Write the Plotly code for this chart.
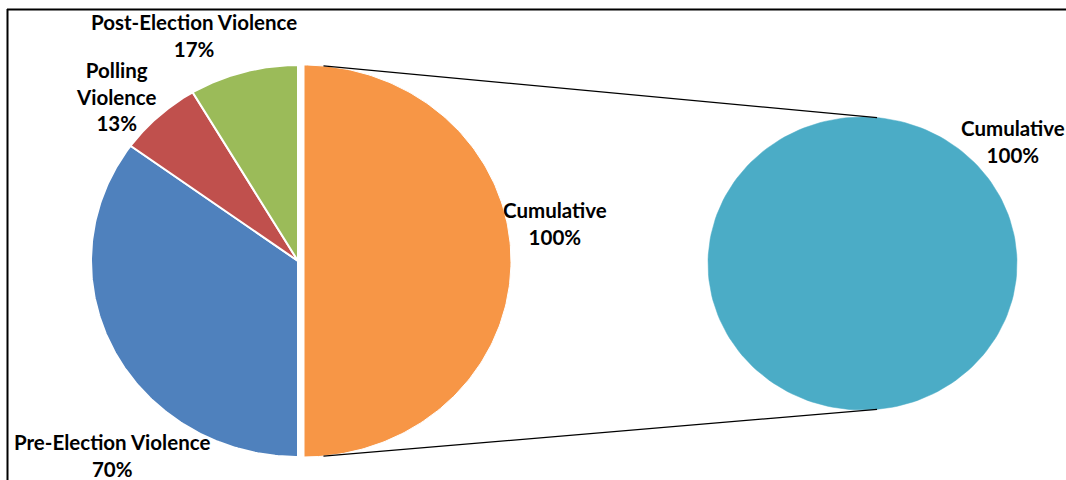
import numpy as np
import plotly.graph_objects as go

# ---- data ----
categories = ["Pre-Election Violence", "Polling Violence", "Post-Election Violence"]
values = [70, 13, 17]
other_label = "Cumulative"
other_value = 100
second_labels = ["Cumulative"]
second_values = [100]

colors = ["#4F81BD", "#C0504D", "#9BBB59"]
other_color = "#F79646"
second_colors = ["#4BACC6"]

# ---- layout geometry (pixel space) ----
W, H = 1066, 480
C1 = (298.0, 261.0)
R1 = (207.0, 196.0)
C2 = (862.5, 263.5)
R2 = (154.5, 146.5)
EXPLODE = 6.0
FONT = "Lato"
FSIZE = 20.5


def wedge(c, r, a0, a1, dx=0.0, n=180):
    th = np.radians(np.linspace(a0, a1, n))
    xs = c[0] + dx + r[0] * np.cos(th)
    ys = c[1] - r[1] * np.sin(th)
    if abs(a1 - a0) >= 359.999:
        return xs, ys
    xs = np.concatenate([[c[0] + dx], xs, [c[0] + dx]])
    ys = np.concatenate([[c[1]], ys, [c[1]]])
    return xs, ys


fig = go.Figure()

total = sum(values) + other_value
# primary pie: start at 12 o'clock, clockwise; "other" slice first
angle = 90.0
span = 360.0 * other_value / total
xs, ys = wedge(C1, R1, angle, angle - span, dx=EXPLODE)
fig.add_trace(go.Scatter(x=xs, y=ys, mode="lines", fill="toself",
                         fillcolor=other_color, line=dict(color="white", width=1),
                         name=other_label, hoverinfo="name"))
angle -= span
for cat, v, col in zip(categories, values, colors):
    span = 360.0 * v / total
    xs, ys = wedge(C1, R1, angle, angle - span)
    fig.add_trace(go.Scatter(x=xs, y=ys, mode="lines", fill="toself",
                             fillcolor=col, line=dict(color="white", width=2),
                             name=cat, hoverinfo="name"))
    angle -= span

# secondary pie
tot2 = sum(second_values)
angle = 90.0
for lab, v, col in zip(second_labels, second_values, second_colors):
    span = 360.0 * v / tot2
    xs, ys = wedge(C2, R2, angle, angle - span)
    fig.add_trace(go.Scatter(x=xs, y=ys, mode="lines", fill="toself",
                             fillcolor=col, line=dict(color=col, width=0.5),
                             name=lab, hoverinfo="name"))
    angle -= span

# connector lines
ca = np.radians(84.6)
for s in (1, -1):
    x0 = C1[0] + EXPLODE + R1[0] * np.cos(ca)
    y0 = C1[1] - s * R1[1] * np.sin(ca)
    x1 = C2[0] + R2[0] * np.cos(ca)
    y1 = C2[1] - s * R2[1] * np.sin(ca)
    fig.add_trace(go.Scatter(x=[x0, x1], y=[y0, y1], mode="lines",
                             line=dict(color="black", width=1.3), hoverinfo="skip"))

# labels
def lab(x, y, text):
    fig.add_annotation(x=x, y=y, xref="x", yref="y", text=text, showarrow=False,
                       font=dict(family=FONT, size=FSIZE, color="black", weight="bold"),
                       align="center", xanchor="center", yanchor="middle")

lab(194, 35, f"{categories[2]}<br>{values[2]}%")
lab(116, 96, "Polling<br>Violence<br>" + f"{values[1]}%")
lab(112, 455, f"{categories[0]}<br>{values[0]}%")
lab(555, 223, f"{other_label}<br>{other_value}%")
lab(1013, 141, f"{second_labels[0]}<br>{second_values[0]}%")

# frame (top and left edges)
fig.add_shape(type="line", xref="x", yref="y", x0=7, y0=9.5, x1=W, y1=9.5,
              line=dict(color="black", width=2))
fig.add_shape(type="line", xref="x", yref="y", x0=7.5, y0=9, x1=7.5, y1=H,
              line=dict(color="black", width=2))

fig.update_layout(
    width=W, height=H, margin=dict(l=0, r=0, t=0, b=0),
    paper_bgcolor="white", plot_bgcolor="white", showlegend=False,
    xaxis=dict(range=[0, W], visible=False, fixedrange=True),
    yaxis=dict(range=[H, 0], visible=False, fixedrange=True),
)

fig.write_html("out.html")
